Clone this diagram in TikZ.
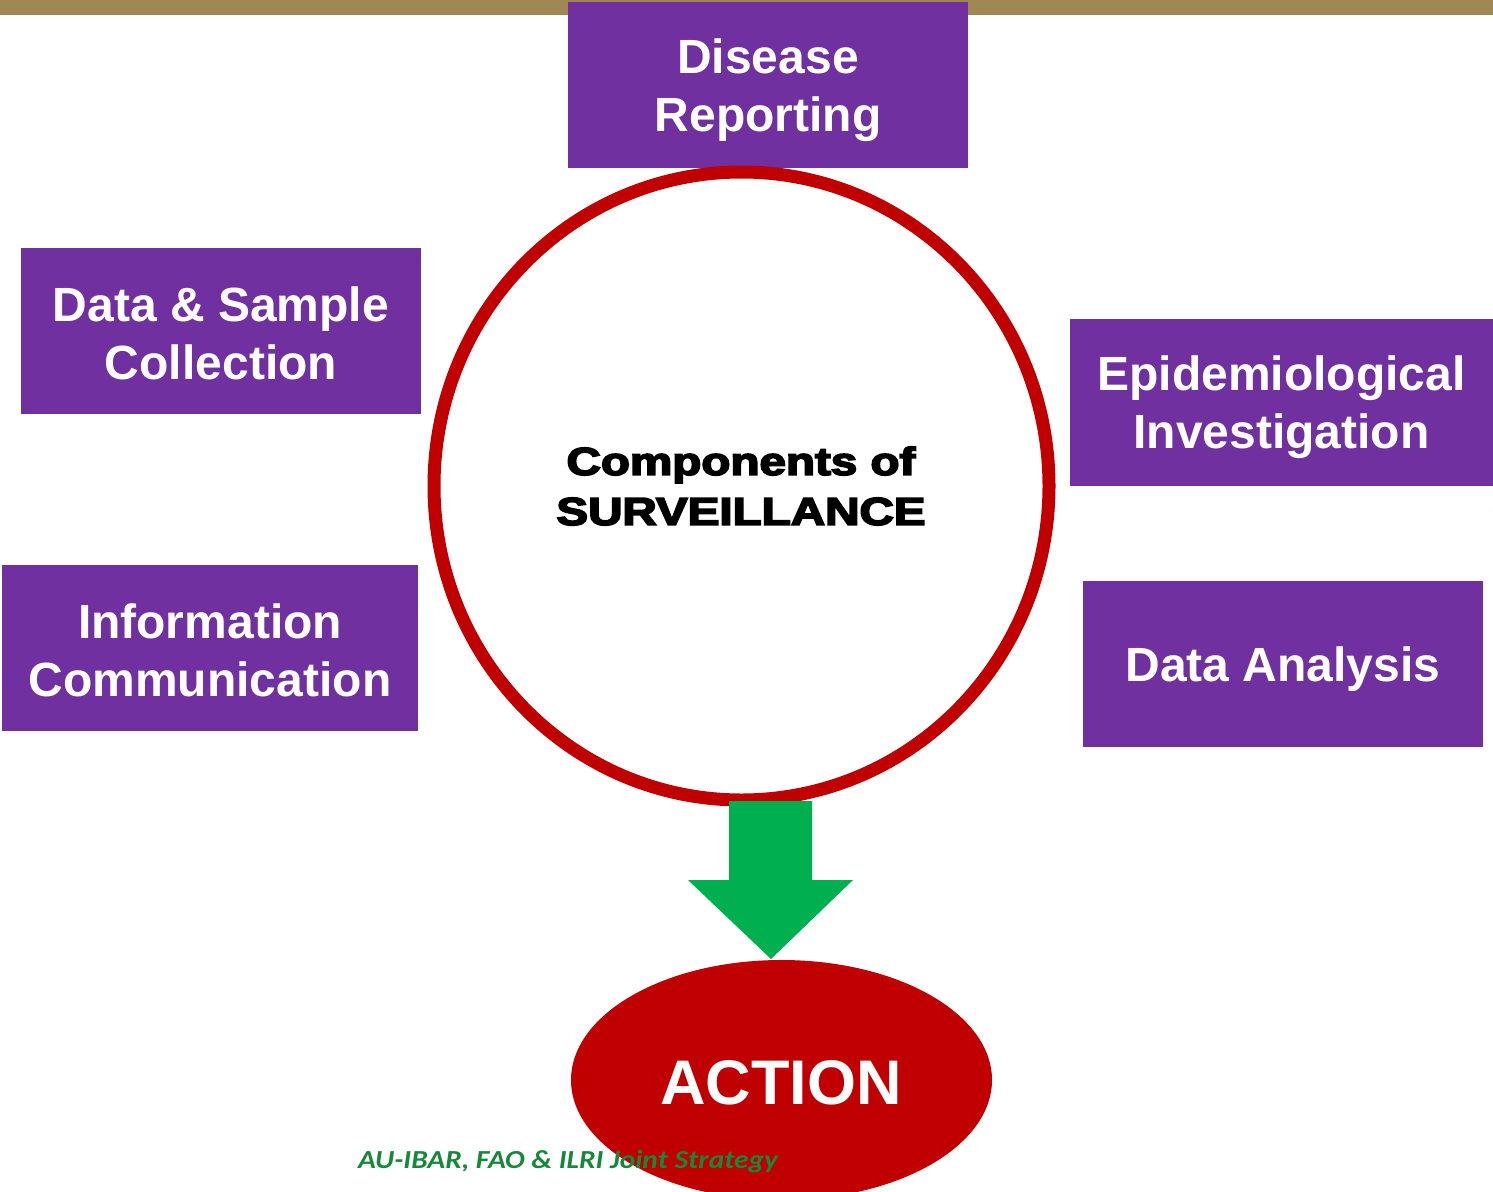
\documentclass[tikz,border=0pt]{standalone}
\usepackage{fontspec}
\setmainfont{Liberation Sans}
\newfontfamily\heavyfont[FakeBold=4]{Liberation Sans Bold}
\newfontfamily\footfont{Carlito}
\definecolor{barbrown}{HTML}{A08855}
\definecolor{boxpurple}{HTML}{7030A0}
\definecolor{ringred}{HTML}{C00000}
\definecolor{arrowgreen}{HTML}{00B050}
\definecolor{footgreen}{HTML}{17873A}
\tikzset{
  compbox/.style={fill=boxpurple, draw=none, inner sep=0pt},
  comptext/.style={text=white, align=center, inner sep=0pt,
    font=\fontsize{48}{58}\selectfont\bfseries},
}
\begin{document}
\begin{tikzpicture}[x=1pt,y=-1pt]
\useasboundingbox (0,0) rectangle (1493,1191);
\fill[white] (0,0) rectangle (1493,1191);
% top bar
\fill[barbrown] (0,0) rectangle (1493,15);
% boxes
\node[compbox, minimum width=400pt, minimum height=166pt] (dr) at (768,85) {};
\node[comptext] (drt) at ([yshift=-5pt]dr.center) {Disease\\Reporting};
\node[compbox, minimum width=400pt, minimum height=166pt] (ds) at (221,331) {};
\node[comptext] (dst) at ([yshift=-2pt]ds.center) {Data \& Sample\\Collection};
\node[compbox, minimum width=416pt, minimum height=166pt] (ic) at (210,648) {};
\node[comptext] (ict) at ([yshift=-2pt]ic.center) {Information\\Communication};
\node[compbox, minimum width=423pt, minimum height=167pt] (ep) at (1281.5,402.5) {};
\node[comptext] (ept) at ([yshift=-5pt]ep.center) {Epidemiological\\Investigation};
\node[compbox, minimum width=400pt, minimum height=166pt] (da) at (1283,664) {};
\node[comptext] (dat) at ([yshift=-5pt]da.center) {Data Analysis};
% circle
\draw[ringred, line width=13pt, fill=white] (741.5,486) ellipse [x radius=307.5, y radius=314];
\node[align=center, inner sep=0pt, font=\fontsize{39}{50}\selectfont\heavyfont] (ctr) at (741,486)
  {\scalebox{1.22}[1]{Components of}\\\scalebox{1.22}[1]{SURVEILLANCE}};
% action ellipse
\fill[ringred] (781.5,1080) ellipse [x radius=210.5, y radius=120];
\node[text=white, font=\fontsize{63}{70}\selectfont\bfseries] (act) at (781,1083) {ACTION};
% arrow
\fill[arrowgreen] (729,801) -- (812,801) -- (812,880) -- (853,880) -- (771,959)
  -- (688,880) -- (729,880) -- cycle;
\coordinate (arrowtop) at (771,801);
% footer
\node[anchor=base west, text=footgreen, font=\fontsize{26}{28}\selectfont\footfont\bfseries\itshape, inner sep=0pt] (foot) at (358,1168) {\scalebox{1.13}[1]{AU-IBAR, FAO \& ILRI Joint Strategy}};
\end{tikzpicture}
\end{document}
